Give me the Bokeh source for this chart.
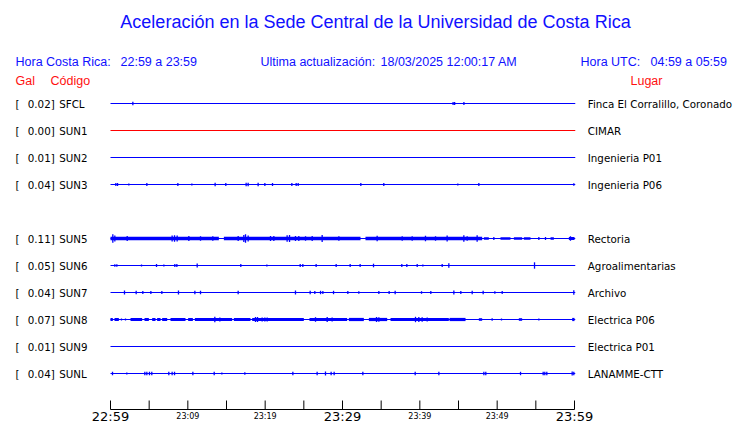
from bokeh.plotting import figure
from bokeh.models import Range1d, Label
from bokeh.embed import file_html
from bokeh.resources import INLINE

# ---------------- data ----------------
title_text = "Aceleración en la Sede Central de la Universidad de Costa Rica"
codes = ["SFCL", "SUN1", "SUN2", "SUN3", "SUN5", "SUN6", "SUN7", "SUN8", "SUN9", "SUNL"]
rows = [0, 1, 2, 3, 5, 6, 7, 8, 9, 10]
gal = ["0.02]", "0.00]", "0.01]", "0.04]", "0.11]", "0.05]", "0.04]", "0.07]", "0.01]", "0.04]"]
places = ["Finca El Corralillo, Coronado", "CIMAR", "Ingenieria P01", "Ingenieria P06",
          "Rectoria", "Agroalimentarias", "Archivo", "Electrica P06", "Electrica P01", "LANAMME-CTT"]
trace_colors = ["#0000ff", "#ff0000", "#0000ff", "#0000ff", "#0000ff",
                "#0000ff", "#0000ff", "#0000ff", "#0000ff", "#0000ff"]
tick_minutes = [0, 5, 10, 15, 20, 25, 30, 35, 40, 45, 50, 55, 60]
big_ticks = [0, 30, 60]
big_labels = ["22:59", "23:29", "23:59"]
small_ticks = [10, 20, 40, 50]
small_labels = ["23:09", "23:19", "23:39", "23:49"]

# spikes: minute after 22:59, half amplitude (reference px)
sfcl_t = [2.89, 44.3, 44.5, 45.7]
sfcl_a = [1.8, 1.5, 1.5, 1.5]
sun3_t = [0.69, 0.91, 2.37, 4.70, 8.71, 10.52, 13.53, 14.91, 17.54, 17.80, 19.09, 19.96, 20.95,
          23.45, 24.01, 24.27, 32.37, 35.34, 44.91, 47.63, 59.91]
sun3_a = [1.5, 1.5, 1, 1.5, 1.5, 1, 1.8, 1.5, 1.8, 1.8, 1.8, 1.5, 1.5, 1.5, 1.5, 1.5, 1.5, 1.5, 1, 1.5, 1.3]
sun5_t = [0.30, 0.56, 2.16, 7.97, 8.28, 8.62, 10.13, 11.64, 13.23, 16.51, 17.24, 17.46, 17.80, 20.69,
          21.12, 22.84, 23.15, 23.92, 24.35, 25.22, 26.08, 27.37, 29.53, 34.48, 37.72, 39.01, 40.73,
          42.03, 43.53, 45.69, 46.12, 47.41, 49.57, 55.39, 56.25, 59.48]
sun5_a = [4.3, 3, 2.5, 3, 3.3, 3, 2.5, 2.3, 2.3, 2.5, 3.5, 4.3, 3, 2.5, 2.5, 3.3, 3.5, 2.5, 2.5, 2.3,
          2.5, 3.5, 2.3, 2.8, 2.3, 2.3, 2.8, 2.3, 3, 3.2, 2.3, 3.3, 1.5, 1.5, 1.5, 2.3]
sun5_b0 = [0, 14.66, 32.97, 48.28, 50.43, 52.16, 53.45, 56.90, 59.27]
sun5_b1 = [14.01, 32.33, 48.06, 48.92, 51.72, 53.23, 54.31, 57.33, 60.0]
sun5_ba = [1.7, 1.7, 1.7, 1.3, 1.3, 1.3, 1.3, 1.3, 1.5]
sun6_t = [0.56, 0.82, 4.01, 5.95, 6.90, 8.32, 8.58, 11.21, 16.85, 20.22, 24.53, 24.87, 26.59, 29.18,
          30.99, 32.28, 34.01, 37.67, 38.32, 39.66, 40.39, 42.89, 43.75, 54.83]
sun6_a = [1.3, 1.3, 1, 1.5, 1, 1.5, 1.5, 2, 1.5, 1, 1.5, 1.5, 1.5, 1.5, 1.5, 1.5, 1.8, 1.5, 1.5, 1.5,
          1, 1.5, 2.3, 3.2]
sun7_t = [1.81, 3.32, 4.18, 5.22, 6.64, 8.79, 10.91, 11.64, 16.51, 23.92, 25.82, 26.42, 27.16, 27.46,
          28.84, 30.69, 32.11, 34.70, 36.03, 36.81, 40.22, 41.42, 44.40, 45.30, 46.77, 48.19, 49.70,
          50.65, 59.91]
sun7_a = [2, 1.7, 1.5, 1.5, 1.5, 2, 1.7, 1.7, 1.7, 2, 1.7, 1.5, 1.7, 1.5, 1.7, 1.5, 1.3, 1.5, 1.5,
          1.7, 1.3, 1.5, 2, 1.5, 1.7, 1.7, 1.3, 1.5, 2.3]
sun8_t = [1.42, 1.94, 13.49, 14.14, 18.75, 19.01, 19.61, 19.96, 20.26, 26.51, 28.02, 28.66, 34.40,
          34.70, 39.44, 39.87, 40.30, 40.95, 49.35, 50.56, 55.39]
sun8_a = [1, 1, 2.7, 2, 2.5, 2.5, 2, 2, 2, 2.3, 2.5, 2, 2.5, 2.3, 2.7, 2.5, 2.3, 2, 1.3, 1, 1]
sun8_b0 = [0, 0.52, 2.59, 4.40, 5.39, 6.03, 6.68, 7.76, 10.04, 10.91, 15.95, 18.32, 25.73, 30.82,
           33.41, 36.21, 43.84, 47.63, 52.80, 59.70]
sun8_b1 = [0.30, 1.08, 4.09, 4.96, 5.82, 6.47, 7.33, 9.70, 10.65, 15.73, 18.10, 25.0, 30.60, 32.76,
           35.78, 43.75, 45.91, 48.06, 53.23, 60.0]
sun8_ba = [1.6, 1.6, 1.6, 1.6, 1.6, 1.6, 1.6, 1.6, 1.6, 1.6, 1.6, 1.6, 1.6, 1.6, 1.6, 1.6, 1.6,
           1.3, 1.3, 1.6]
sunl_t = [0.26, 2.11, 4.44, 4.70, 5.04, 5.34, 7.54, 7.97, 8.28, 10.65, 13.41, 14.40, 17.37, 23.58,
          26.72, 27.80, 28.53, 28.92, 32.63, 39.40, 42.46, 48.28, 48.53, 53.02, 55.95, 56.16, 56.42,
          59.70, 59.91]
sunl_a = [1.7, 1, 1.7, 1.7, 1.7, 1.7, 1.7, 1.7, 1.7, 1.7, 1.7, 1, 1.3, 1.7, 1.7, 2, 1.7, 1.7, 1.7,
          1.7, 1.7, 1.7, 1.7, 1.7, 1.7, 1.7, 1.7, 2, 1.7]

# ---------------- layout ----------------
W, H = 740, 423
PX_ROW = 27.0            # px between rows
ROW0 = 103.0             # pixel y of first trace
X0, X60 = 110.0, 574.0   # pixel x of 22:59 and 23:59
PX_MIN = (X60 - X0) / 60.0
AX_Y = 409.0             # axis line
TICK_TOP = 400.0
TXT_K = 0.4              # empirical baseline correction (fraction of font size)


def ypix(iy):
    return (iy - ROW0) / PX_ROW


def xpix(ix):
    return (ix - X0) / PX_MIN


p = figure(width=W, height=H, output_backend="svg", toolbar_location=None, title=None,
           x_range=Range1d(xpix(0), xpix(W)), y_range=Range1d(ypix(H), ypix(0)),
           min_border=0, x_axis_location=None, y_axis_location=None)
p.outline_line_color = None
p.xgrid.visible = False
p.ygrid.visible = False
p.background_fill_color = "white"
p.border_fill_color = "white"

# time axis (line + ticks)
p.segment(x0=[tick_minutes[0]], x1=[tick_minutes[-1]], y0=[ypix(AX_Y)], y1=[ypix(AX_Y)],
          line_color="black", line_width=1)
p.segment(x0=tick_minutes, x1=tick_minutes, y0=[ypix(TICK_TOP)] * len(tick_minutes),
          y1=[ypix(AX_Y)] * len(tick_minutes), line_color="black", line_width=1)

# baselines
p.segment(x0=[0] * len(rows), x1=[60.1] * len(rows), y0=rows, y1=rows,
          line_color=trace_colors, line_width=1)

# bands
bands = [(4, sun5_b0, sun5_b1, sun5_ba), (7, sun8_b0, sun8_b1, sun8_ba)]
bl, br, bt, bb = [], [], [], []
for r, b0, b1, ba in bands:
    for s, e, a in zip(b0, b1, ba):
        bl.append(s); br.append(e)
        bt.append(rows[r] - a / PX_ROW); bb.append(rows[r] + a / PX_ROW)
p.quad(left=bl, right=br, top=bt, bottom=bb, fill_color="#0000ff", line_color=None)

# spikes
spikes = [(0, sfcl_t, sfcl_a), (3, sun3_t, sun3_a), (4, sun5_t, sun5_a), (5, sun6_t, sun6_a),
          (6, sun7_t, sun7_a), (7, sun8_t, sun8_a), (9, sunl_t, sunl_a)]
sx, sy0, sy1 = [], [], []
for r, ts, as_ in spikes:
    for t, a in zip(ts, as_):
        sx.append(t)
        sy0.append(rows[r] - a / PX_ROW)
        sy1.append(rows[r] + a / PX_ROW)
p.segment(x0=sx, x1=sx, y0=sy0, y1=sy1, line_color="#0000ff", line_width=1.3)


def lab(ix, iy, text, font, size, color, align="left"):
    fs = float(size)
    p.add_layout(Label(x=xpix(ix), y=ypix(iy - TXT_K * fs), text=text, text_font=font,
                       text_font_size=f"{fs}px", text_color=color, text_align=align,
                       text_baseline="alphabetic"))


BLUE = "#1010ff"
RED = "#ff1010"
HF = "Liberation Sans"
lab(375, 28.5, title_text, HF, 18, BLUE, align="center")
lab(15, 66, "Hora Costa Rica:", HF, 12.5, BLUE)
lab(120, 66, "22:59 a 23:59", HF, 12.5, BLUE)
lab(260, 66, "Ultima actualización:", HF, 12.5, BLUE)
lab(380, 66, "18/03/2025 12:00:17 AM", HF, 12.5, BLUE)
lab(580, 66, "Hora UTC:", HF, 12.5, BLUE)
lab(650, 66, "04:59 a 05:59", HF, 12.5, BLUE)
lab(15, 85, "Gal", HF, 12.5, RED)
lab(50, 85, "Código", HF, 12.5, RED)
lab(630, 85, "Lugar", HF, 12.5, RED)

SF = "DejaVu Sans"
for r, g, c, pl in zip(rows, gal, codes, places):
    iy = 103.0 + PX_ROW * r + 4.3
    lab(15, iy, "[", SF, 10.3, "black")
    lab(27.3, iy, g, SF, 10.3, "black")
    lab(58.7, iy, c, SF, 10.3, "black")
    lab(587.3, iy, pl, SF, 10.3, "black")

for m, t in zip(big_ticks, big_labels):
    lab(X0 + m * PX_MIN, 421.5, t, SF, 13, "black", align="center")
for m, t in zip(small_ticks, small_labels):
    lab(X0 + m * PX_MIN, 419, t, SF, 8, "black", align="center")

open("out.html", "w").write(file_html(p, INLINE))
